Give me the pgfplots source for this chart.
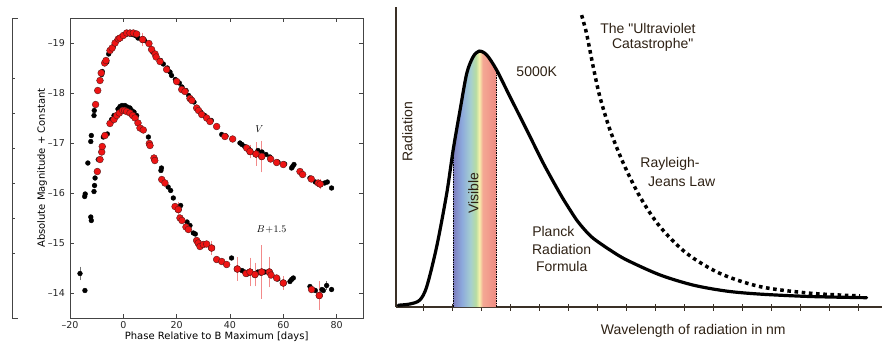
\documentclass[border=0pt]{standalone}
\usepackage{pgfplots}
\usepackage{pgfplotstable}
\pgfplotsset{compat=1.18}
\usepackage{fontspec}
\setmainfont{DejaVu Sans}
\newfontfamily\arial{Liberation Sans}
\definecolor{txtbrown}{HTML}{2E2114}
\definecolor{axbrown}{HTML}{3A3026}
\definecolor{vis1}{HTML}{7C7DBE}
\definecolor{vis2}{HTML}{8DA9DC}
\definecolor{vis3}{HTML}{A5CFD0}
\definecolor{vis4}{HTML}{B6DCA2}
\definecolor{vis5}{HTML}{F6F1AC}
\definecolor{vis6}{HTML}{F4A894}
\definecolor{vis7}{HTML}{EE8A82}
\definecolor{ptred}{HTML}{EE1414}
\definecolor{ptedge}{HTML}{5A1A1A}
\definecolor{errred}{HTML}{F28A8A}
\definecolor{frame}{HTML}{444444}
\pgfdeclarehorizontalshading{visible}{100bp}{color(0bp)=(vis1); color(25bp)=(vis1); color(35bp)=(vis2); color(45bp)=(vis3); color(51bp)=(vis4); color(55bp)=(vis5); color(59bp)=(vis6); color(75bp)=(vis7); color(100bp)=(vis7)}

% ---------- light curve data ----------
\pgfplotstableread{
x y
-14.5 -15.93
-14.3 -15.98
-12.2 -17.03
-12.0 -17.15
-11.0 -17.55
-10.9 -17.65
-8.1 -18.37
-7.9 -18.43
-6.2 -18.62
-5.5 -18.78
-4.4 -18.88
-3.75 -18.93
-2.5 -19.05
-1.5 -19.1
-0.5 -19.13
0.5 -19.17
1.5 -19.18
2.5 -19.18
3.5 -19.17
4.5 -19.15
5.5 -19.1
8.0 -19.05
11.0 -18.82
12.5 -18.72
14.0 -18.65
15.0 -18.58
16.5 -18.5
17.5 -18.42
18.1 -18.35
19.5 -18.27
21.0 -18.2
22.0 -18.12
23.5 -18.05
24.5 -17.95
25.5 -17.88
26.5 -17.82
28.0 -17.68
29.0 -17.62
30.5 -17.55
33.0 -17.45
36.9 -17.17
38.5 -17.14
43.75 -17.0
44.5 -16.97
45.5 -16.93
47.0 -16.88
50.5 -16.85
52.0 -16.82
53.5 -16.77
55.0 -16.72
58.0 -16.62
60.5 -16.58
63.1 -16.5
63.5 -16.53
64.0 -16.57
70.0 -16.3
72.0 -16.22
74.0 -16.18
75.5 -16.2
76.5 -16.22
78.1 -16.1
}\Vblack
\pgfplotstableread{
x y
-10.4 -17.77
-9.6 -18.05
-8.75 -18.25
-8.3 -18.4
-7.0 -18.6
-6.5 -18.65
-5.0 -18.85
-4.2 -18.9
-3.1 -19.0
-1.9 -19.08
-1.25 -19.1
0.0 -19.15
1.25 -19.2
2.5 -19.2
3.75 -19.2
5.0 -19.18
7.25 -19.07
9.6 -18.99
10.6 -18.87
11.9 -18.78
12.3 -18.72
13.75 -18.63
16.25 -18.47
20.0 -18.23
21.9 -18.07
23.1 -18.03
25.0 -17.89
25.7 -17.85
27.5 -17.7
28.2 -17.65
29.4 -17.57
31.25 -17.5
32.5 -17.43
35.0 -17.33
38.1 -17.13
41.0 -17.08
46.25 -16.9
47.5 -16.83
49.75 -16.78
51.9 -16.73
55.25 -16.68
57.5 -16.61
60.0 -16.57
66.25 -16.43
67.25 -16.37
70.5 -16.28
73.1 -16.2
73.8 -16.18
}\Vred
\pgfplotstableread{
x y e
7.25 -19.07 0.1
47.5 -16.83 0.1
49.75 -16.78 0.2
51.9 -16.73 0.28
73.8 -16.18 0.07
}\Vrederr
\pgfplotstableread{
x y
-14.4 -14.05
-13.3 -16.6
-12.2 -15.52
-12.0 -15.45
-11.0 -16.03
-10.8 -16.15
-10.6 -16.3
-9.4 -16.67
-7.5 -17.12
-6.0 -17.18
-4.4 -17.47
-3.5 -17.55
-2.0 -17.68
-1.25 -17.73
-0.5 -17.75
0.6 -17.75
1.5 -17.72
2.5 -17.7
3.1 -17.65
4.0 -17.62
5.0 -17.55
9.4 -17.12
14.1 -16.45
14.3 -16.5
16.8 -16.12
17.75 -16.05
18.75 -15.9
21.5 -15.75
23.9 -15.42
25.0 -15.35
26.25 -15.2
27.0 -15.18
40.6 -14.7
44.5 -14.45
45.5 -14.42
46.5 -14.38
50.5 -14.42
51.5 -14.4
53.0 -14.42
57.9 -14.28
62.5 -14.23
63.1 -14.27
63.75 -14.3
70.0 -14.13
71.0 -14.07
72.0 -14.05
74.5 -14.07
75.0 -14.05
78.1 -14.07
}\Bblack
\pgfplotstableread{
x y e
-16.25 -14.39 0.1
76.25 -14.15 0.05
}\Bblackerr
\pgfplotstableread{
x y
-9.75 -16.43
-8.75 -16.67
-8.1 -16.82
-7.9 -16.93
-6.9 -17.15
-5.0 -17.39
-3.5 -17.47
-2.5 -17.55
-1.5 -17.6
-0.25 -17.65
0.5 -17.65
1.25 -17.63
2.5 -17.6
3.5 -17.55
4.4 -17.5
5.5 -17.4
6.25 -17.3
7.5 -17.26
9.75 -16.99
10.0 -16.95
11.5 -16.7
11.8 -16.65
14.4 -16.27
15.6 -16.2
19.4 -15.73
20.6 -15.67
21.25 -15.5
22.0 -15.45
23.5 -15.32
24.4 -15.27
27.5 -15.05
28.1 -15.0
28.75 -14.93
30.0 -14.97
31.25 -14.98
33.1 -14.9
35.0 -14.67
36.9 -14.63
38.75 -14.57
42.75 -14.48
46.0 -14.39
47.5 -14.42
49.4 -14.37
51.9 -14.42
54.75 -14.42
55.4 -14.36
57.5 -14.3
60.0 -14.2
70.6 -14.07
73.5 -13.95
}\Bred
\pgfplotstableread{
x y e
20.6 -15.67 0.12
28.1 -15.0 0.05
33.1 -14.9 0.1
42.75 -14.48 0.2
47.5 -14.42 0.25
49.4 -14.37 0.2
51.9 -14.42 0.5
54.75 -14.42 0.27
60.0 -14.2 0.1
73.5 -13.95 0.25
}\Brederr

% ---------- Planck data ----------
\pgfplotstableread{
x y
0.14 0.6
0.54 1.0
0.88 2.3
1.12 6.8
1.46 20
1.81 37.9
2.03 52.3
2.27 65.7
2.50 77.9
2.72 83.4
2.93 85.3
3.19 84.0
3.53 79.0
3.99 70.1
4.57 59.0
5.14 47.9
5.71 37.9
6.00 33.3
6.29 29.0
6.57 25.7
6.86 22.9
7.44 19.0
8.01 15.7
9.16 10.7
10.31 7.3
11.46 5.3
12.61 4.3
14.33 3.5
16.29 3.1
}\planck
\pgfplotstableread{
x y
2.03 0
2.03 52.3
2.15 59.5
2.27 65.7
2.39 72.5
2.50 77.9
2.61 81.3
2.72 83.4
2.83 84.8
2.93 85.3
3.06 85.0
3.19 84.0
3.36 81.8
3.53 79.0
3.53 0
}\band
\pgfplotstableread{
x y
6.46 97.3
6.63 91.2
6.86 80.1
7.09 70.1
7.44 59.0
7.90 47.9
8.47 36.8
9.16 26.8
10.08 17.9
11.23 11.2
12.61 6.8
14.33 4.6
16.06 3.7
}\rj

\pgfplotsset{
  redpts/.style={only marks, mark=*, mark size=3.4pt, mark options={fill=ptred, draw=ptedge, line width=0.4pt}},
  blackpts/.style={only marks, mark=*, mark size=2.4pt, mark options={fill=black, draw=black}},
  rederr/.style={error bars/.cd, y dir=both, y explicit,
    error bar style={errred, line width=0.7pt},
    error mark options={errred, line width=0.7pt, mark size=1.8pt}},
  blackerr/.style={error bars/.cd, y dir=both, y explicit,
    error bar style={black!55, line width=0.7pt},
    error mark options={black!55, line width=0.7pt, mark size=1.8pt}},
}

\begin{document}
\begin{tikzpicture}
\useasboundingbox (0,0) rectangle (882pt,346pt);

% fragment of a neighbouring axis
\begin{axis}[at={(12pt,28pt)}, anchor=south west, scale only axis,
  width=10pt, height=300pt, xmin=0, xmax=1, ymin=18, ymax=318, y dir=reverse,
  axis x line=none, axis y line=left, y axis line style={-, frame, line width=0.8pt},
  ytick={78,113,148,183,218,253}, yticklabels={},
  extra y ticks={18,318}, extra y tick labels={},
  extra y tick style={major tick length=6pt},
  tick align=inside, ytick pos=left, major tick length=3pt,
  tick style={frame, line width=0.8pt}]
\end{axis}

% ---------- light curves ----------
\begin{axis}[at={(70pt,28pt)}, anchor=south west, scale only axis,
  width=293.3pt, height=300pt,
  xmin=-20, xmax=90, ymin=-19.5, ymax=-13.5, y dir=reverse,
  xtick={-20,0,20,40,60,80}, xticklabels={–20,0,20,40,60,80},
  ytick={-19,-18,-17,-16,-15,-14}, yticklabels={–19,–18,–17,–16,–15,–14},
  tick align=inside, major tick length=4pt, minor tick num=0,
  axis line style={frame, line width=0.8pt},
  tick style={frame, line width=0.7pt},
  ticklabel style={font=\fontsize{9.5}{11}\selectfont, text=black!85},
  xticklabel style={inner sep=0pt, yshift=-3pt},
  yticklabel style={inner sep=0pt, xshift=-5pt},
  every axis x label/.style={at={(axis description cs:0.5,0)}, anchor=center, yshift=-19pt},
  every axis y label/.style={at={(axis description cs:0,0.5)}, anchor=center, xshift=-28pt, rotate=90},
  xlabel={\fontsize{10}{12}\selectfont Phase Relative to B Maximum [days]},
  ylabel={\fontsize{10}{12}\selectfont Absolute Magnitude + Constant},
]
\addplot[blackpts, blackerr] table[x=x, y=y, y error=e] {\Bblackerr};
\addplot[blackpts] table[x=x,y=y] {\Vblack};
\addplot[blackpts] table[x=x,y=y] {\Bblack};
\addplot[redpts, rederr] table[x=x, y=y, y error=e] {\Vrederr};
\addplot[redpts, rederr] table[x=x, y=y, y error=e] {\Brederr};
\addplot[redpts] table[x=x,y=y] {\Vred};
\addplot[redpts] table[x=x,y=y] {\Bred};
\node at (axis cs:51,-17.28) {\fontsize{10}{12}\selectfont $V$};
\node at (axis cs:55.6,-15.27) {\fontsize{10}{12}\selectfont $B\!+\!1.5$};
\end{axis}

% ---------- Planck ----------
\begin{axis}[at={(396pt,39pt)}, anchor=south west, scale only axis,
  width=486pt, height=300pt,
  xmin=0.06, xmax=16.82, ymin=0, ymax=100,
  axis x line=bottom, axis y line=left,
  axis line style={-, axbrown, line width=1.4pt},
  xtick={1,...,16}, xticklabels={}, ytick=\empty,
  xtick align=center, major tick length=7pt,
  tick style={axbrown, line width=1pt},
  clip=false]
\addplot[draw=none, shading=visible] table[x=x,y=y] {\band} -- cycle;
\addplot[black, densely dotted, line width=0.7pt] coordinates {(2.03,0) (2.03,52)};
\addplot[black, densely dotted, line width=0.7pt] coordinates {(3.53,0) (3.53,79)};
\addplot[black, smooth, line width=3.2pt, line cap=round] table[x=x,y=y] {\planck};
\addplot[black, smooth, line width=3.5pt, dash pattern=on 3.6pt off 3.6pt] table[x=x,y=y] {\rj};
\end{axis}

\begin{scope}[every node/.style={text=txtbrown, font=\arial\fontsize{14}{16}\selectfont, inner sep=0pt}]
\node[rotate=90] at (407.4pt,214.3pt) {Radiation};
\node[rotate=90] at (473.3pt,152.7pt) {Visible};
\node at (536.7pt,274pt) {5000K};
\node at (648pt,318pt) {The "Ultraviolet};
\node at (652.7pt,301pt) {Catastrophe"};
\node at (670pt,182pt) {Rayleigh-};
\node at (681.7pt,164pt) {Jeans Law};
\node at (553.3pt,114.3pt) {Planck};
\node at (561.7pt,96.7pt) {Radiation};
\node at (561.7pt,79.3pt) {Formula};
\node at (693.3pt,15pt) {Wavelength of radiation in nm};
\end{scope}
\end{tikzpicture}
\end{document}
